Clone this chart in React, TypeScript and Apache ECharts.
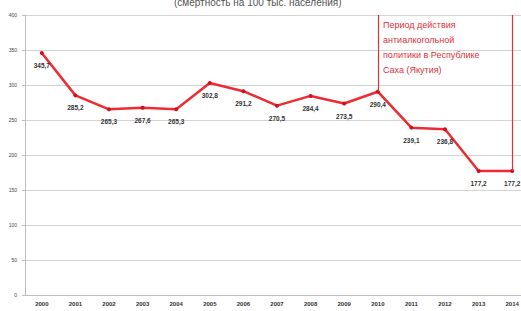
import React, { useEffect, useRef } from "react";
import * as echarts from "echarts";

const years = ["2000","2001","2002","2003","2004","2005","2006","2007","2008","2009","2010","2011","2012","2013","2014"];
const values = [345.7, 285.2, 265.3, 267.6, 265.3, 302.8, 291.2, 270.5, 284.4, 273.5, 290.4, 239.1, 236.8, 177.2, 177.2];
const periodStart = "2010";
const periodEnd = "2014";
const periodText = "Период действия\nантиалкогольной\nполитики в Республике\nСаха (Якутия)";
const titleText = "(смертность на 100 тыс. населения)";

export default function App() {
  const ref = useRef<HTMLDivElement>(null);
  useEffect(() => {
    if (!ref.current) return;
    const chart = echarts.init(ref.current, null, { renderer: "svg" });
    const iStart = years.indexOf(periodStart);
    const iEnd = years.indexOf(periodEnd);
    chart.setOption({
      animation: false,
      backgroundColor: "#ffffff",
      grid: { left: 25, top: 15, height: 280, width: 504 },
      graphic: [
        {
          type: "text",
          left: 174,
          top: -3,
          style: { text: titleText, fontSize: 10, fill: "#555", fontFamily: "Liberation Sans" },
        },
        {
          type: "text",
          left: 383,
          top: 17,
          style: { text: periodText, fontSize: 9, lineHeight: 15, fill: "#e0303a", fontFamily: "Liberation Sans" },
        },
      ],
      xAxis: {
        type: "category",
        data: years,
        boundaryGap: true,
        axisLine: { lineStyle: { color: "#bfbfbf" } },
        axisTick: { show: false },
        axisLabel: { fontSize: 6, fontWeight: "bold", color: "#333", margin: 6, interval: 0, fontFamily: "Liberation Sans" },
      },
      yAxis: {
        type: "value",
        min: 0,
        max: 400,
        interval: 50,
        axisLine: { show: true, lineStyle: { color: "#bfbfbf" } },
        axisTick: { show: true, length: 3, lineStyle: { color: "#bfbfbf" } },
        axisLabel: { fontSize: 5, color: "#444", margin: 8, fontFamily: "Liberation Sans" },
        splitLine: { lineStyle: { color: "#d4d4d4", width: 1 } },
      },
      series: [
        {
          type: "line",
          data: values,
          symbol: "circle",
          symbolSize: 4,
          lineStyle: { color: "#ee2a33", width: 2.5 },
          itemStyle: { color: "#d0101c" },
          label: {
            show: true,
            position: "bottom",
            distance: 7,
            fontSize: 6.5,
            fontWeight: "bold",
            color: "#333",
            fontFamily: "Liberation Sans",
            formatter: (p: any) => String(p.value.toFixed(1)).replace(".", ","),
          },
          markLine: {
            silent: true,
            symbol: "none",
            label: { show: false },
            lineStyle: { color: "#e0303a", width: 1.2, type: "solid" },
            data: [
              [{ coord: [years[iStart], 400] }, { coord: [years[iStart], values[iStart]] }],
              [{ coord: [years[iEnd], 400] }, { coord: [years[iEnd], values[iEnd]] }],
            ],
          },
        },
      ],
    });
    return () => chart.dispose();
  }, []);
  return <div ref={ref} style={{ position: "fixed", left: 0, top: 0, width: 530, height: 311 }} />;
}
